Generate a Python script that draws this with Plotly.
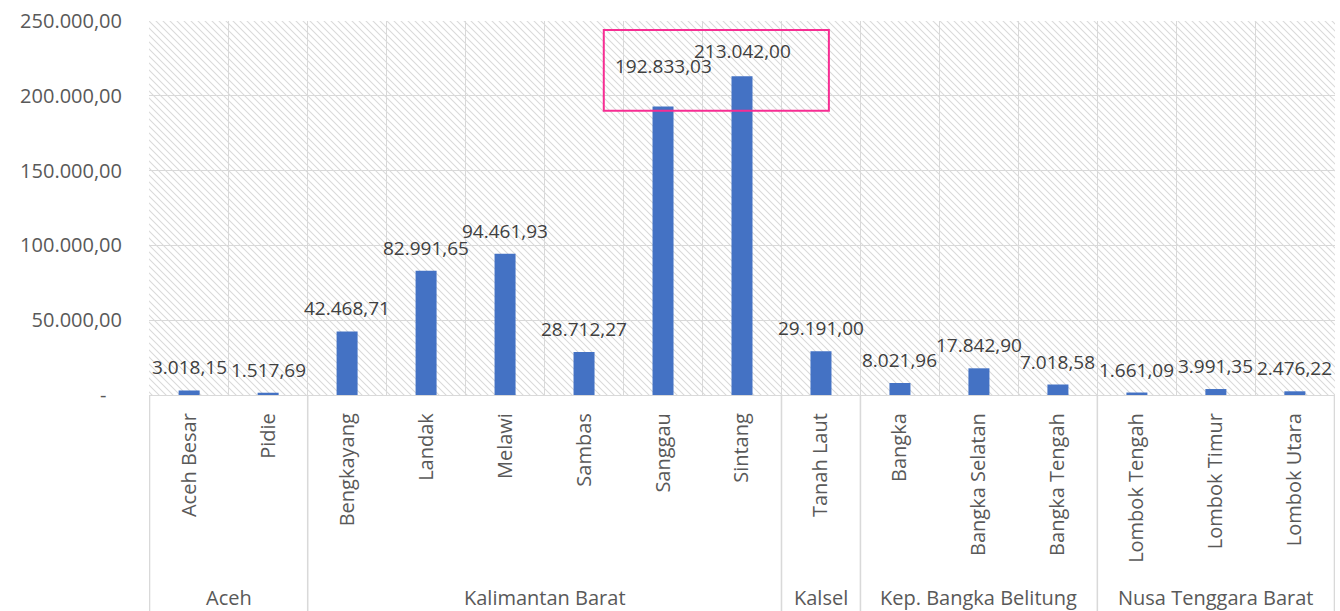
import base64
import plotly.graph_objects as go

# Regions grouped by province
provinces = ["Aceh", "Aceh",
             "Kalimantan Barat", "Kalimantan Barat", "Kalimantan Barat",
             "Kalimantan Barat", "Kalimantan Barat", "Kalimantan Barat",
             "Kalsel",
             "Kep. Bangka Belitung", "Kep. Bangka Belitung", "Kep. Bangka Belitung",
             "Nusa Tenggara Barat", "Nusa Tenggara Barat", "Nusa Tenggara Barat"]
regencies = ["Aceh Besar", "Pidie",
             "Bengkayang", "Landak", "Melawi", "Sambas", "Sanggau", "Sintang",
             "Tanah Laut",
             "Bangka", "Bangka Selatan", "Bangka Tengah",
             "Lombok Tengah", "Lombok Timur", "Lombok Utara"]
values = [3018.15, 1517.69,
          42468.71, 82991.65, 94461.93, 28712.27, 192833.03, 213042.00,
          29191.00,
          8021.96, 17842.90, 7018.58,
          1661.09, 3991.35, 2476.22]
y_ticks = [0, 50000, 100000, 150000, 200000, 250000]
highlighted = ["Sanggau", "Sintang"]

FONT = "Open Sans"
GRID = "#d9d9d9"
W, H = 1340, 611
M = dict(l=149, r=5, t=21, b=216)
PW, PH = W - M["l"] - M["r"], H - M["t"] - M["b"]


def id_num(v):
    s = f"{v:,.2f}"
    return s.replace(",", "#").replace(".", ",").replace("#", ".")


def tick_text(v):
    return "-\u00a0\u00a0\u00a0" if v == 0 else id_num(v)


# diagonal hatch for the plot background
svg = (
    f'<svg xmlns="http://www.w3.org/2000/svg" width="{PW}" height="{PH}">'
    '<defs><pattern id="h" width="7" height="7" patternUnits="userSpaceOnUse">'
    '<path d="M-1,-1 L8,8 M-1,6 L1,8 M6,-1 L8,1" stroke="#dadada" stroke-width="1.1"/>'
    '</pattern></defs>'
    f'<rect width="{PW}" height="{PH}" fill="white"/>'
    f'<rect width="{PW}" height="{PH}" fill="url(#h)"/></svg>'
)
hatch_src = "data:image/svg+xml;base64," + base64.b64encode(svg.encode()).decode()

fig = go.Figure(go.Bar(
    x=regencies, y=values,
    marker=dict(color="#4472C4", line=dict(width=0)),
    hoverinfo="skip",
))

# value labels above each bar
label_nudge = {"Sanggau": 18, "Sintang": 2}
annotations = []
for name, v in zip(regencies, values):
    annotations.append(dict(
        x=name, y=v, xref="x", yref="y", text=id_num(v), showarrow=False,
        yanchor="middle", yshift=23 + label_nudge.get(name, 0),
        font=dict(family=FONT, size=19, color="#404040"),
    ))

# province labels and dividers on the lower axis level
shapes = []
groups = []
for i, p in enumerate(provinces):
    if not groups or groups[-1][0] != p:
        groups.append([p, i, i])
    else:
        groups[-1][2] = i
bottom = -M["b"] / PH
for p, a, b in groups:
    annotations.append(dict(
        x=(a + b) / 2, y=0, xref="x", yref="paper", text=p, showarrow=False,
        yanchor="middle", yshift=-202,
        font=dict(family=FONT, size=20, color="#595959"),
    ))
    for xb in (a - 0.5, b + 0.5):
        shapes.append(dict(type="line", xref="x", yref="paper",
                           x0=xb, x1=xb, y0=0, y1=bottom,
                           line=dict(color=GRID, width=1.3), layer="below"))

# highlight box around the two largest values
i0, i1 = regencies.index(highlighted[0]), regencies.index(highlighted[-1])
shapes.append(dict(type="rect", xref="x", yref="y",
                   x0=i0 - 0.75, x1=i1 + 1.1, y0=190000, y1=244000,
                   line=dict(color="#F72D93", width=2), fillcolor="rgba(0,0,0,0)"))

fig.update_layout(
    width=W, height=H, margin=M,
    paper_bgcolor="white", plot_bgcolor="white",
    bargap=0.734, showlegend=False,
    font=dict(family=FONT, size=20, color="#595959"),
    annotations=annotations, shapes=shapes,
    images=[dict(source=hatch_src, xref="paper", yref="paper", x=0, y=1,
                 sizex=1, sizey=1, sizing="stretch", layer="below",
                 xanchor="left", yanchor="top")],
    xaxis=dict(
        type="category", tickson="boundaries", showgrid=True, gridcolor=GRID,
        gridwidth=1.3, tickangle=-90, ticks="", ticklabelstandoff=9,
        showline=True, linecolor=GRID, linewidth=1.3,
        tickfont=dict(family=FONT, size=20, color="#595959"),
    ),
    yaxis=dict(
        range=[0, 250000], tickvals=y_ticks, ticktext=[tick_text(v) for v in y_ticks],
        showgrid=True, gridcolor=GRID, gridwidth=1.3, zeroline=False,
        ticks="", ticklabelstandoff=26, showline=False,
        tickfont=dict(family=FONT, size=20, color="#595959"),
    ),
)

fig.write_html("out.html")
